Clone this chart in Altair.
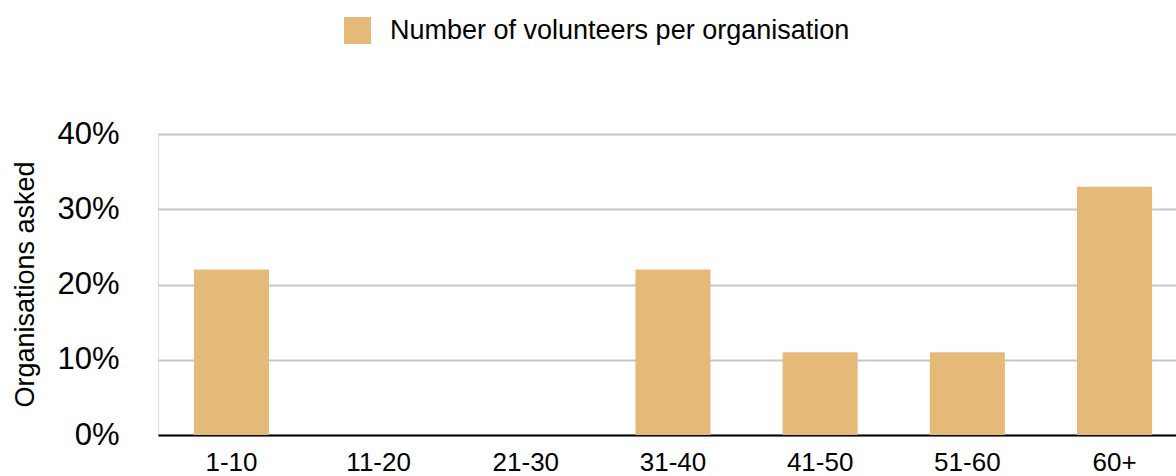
import altair as alt
import pandas as pd

categories = ["1-10", "11-20", "21-30", "31-40", "41-50", "51-60", "60+"]
values = [22, 0, 0, 22, 11, 11, 33]
series_name = "Number of volunteers per organisation"
y_ticks = [0, 10, 20, 30, 40]

df = pd.DataFrame({"band": categories, "pct": values, "series": [series_name] * len(categories)})

FONT = "Liberation Sans"

chart = (
    alt.Chart(df)
    .mark_bar(color="#E5BA78")
    .encode(
        x=alt.X(
            "band:N",
            sort=categories,
            scale=alt.Scale(paddingInner=0.49, paddingOuter=0.2035, align=0.6),
            axis=alt.Axis(
                title=None,
                labelAngle=0,
                labelFontSize=26,
                labelColor="#000000",
                labelFont=FONT,
                labelPadding=14,
                ticks=False,
                domainColor="#000000",
                domainWidth=2,
                grid=False,
            ),
        ),
        y=alt.Y(
            "pct:Q",
            scale=alt.Scale(domain=[0, 40], nice=False),
            axis=alt.Axis(
                title="Organisations asked",
                titleFont=FONT,
                titleFontSize=27,
                titleFontWeight="normal",
                titleColor="#000000",
                titleX=-125,
                titleY=150,
                titleBaseline="alphabetic",
                values=y_ticks,
                labelExpr="datum.value + '%'",
                labelFontSize=31,
                labelFont=FONT,
                labelColor="#000000",
                labelPadding=39,
                ticks=False,
                domain=False,
                grid=True,
                gridColor="#C6C6C6",
                gridWidth=2,
            ),
        ),
        color=alt.Color(
            "series:N",
            scale=alt.Scale(range=["#E5BA78"]),
            legend=alt.Legend(
                title=None,
                orient="none",
                legendX=186,
                legendY=-117,
                symbolType="square",
                symbolSize=729,
                symbolStrokeWidth=0,
                labelFontSize=27,
                labelFont=FONT,
                labelColor="#000000",
                labelOffset=19,
                labelLimit=0,
                padding=0,
            ),
        ),
    )
    .properties(
        width=1018,
        height=301,
        padding={"left": 158, "top": 134, "right": 0, "bottom": 41},
        autosize=alt.AutoSizeParams(type="none"),
    )
    .configure_view(stroke=None)
    .configure(background="#FFFFFF")
)

chart.save("out.html", embed_options={"renderer": "svg", "actions": False})
